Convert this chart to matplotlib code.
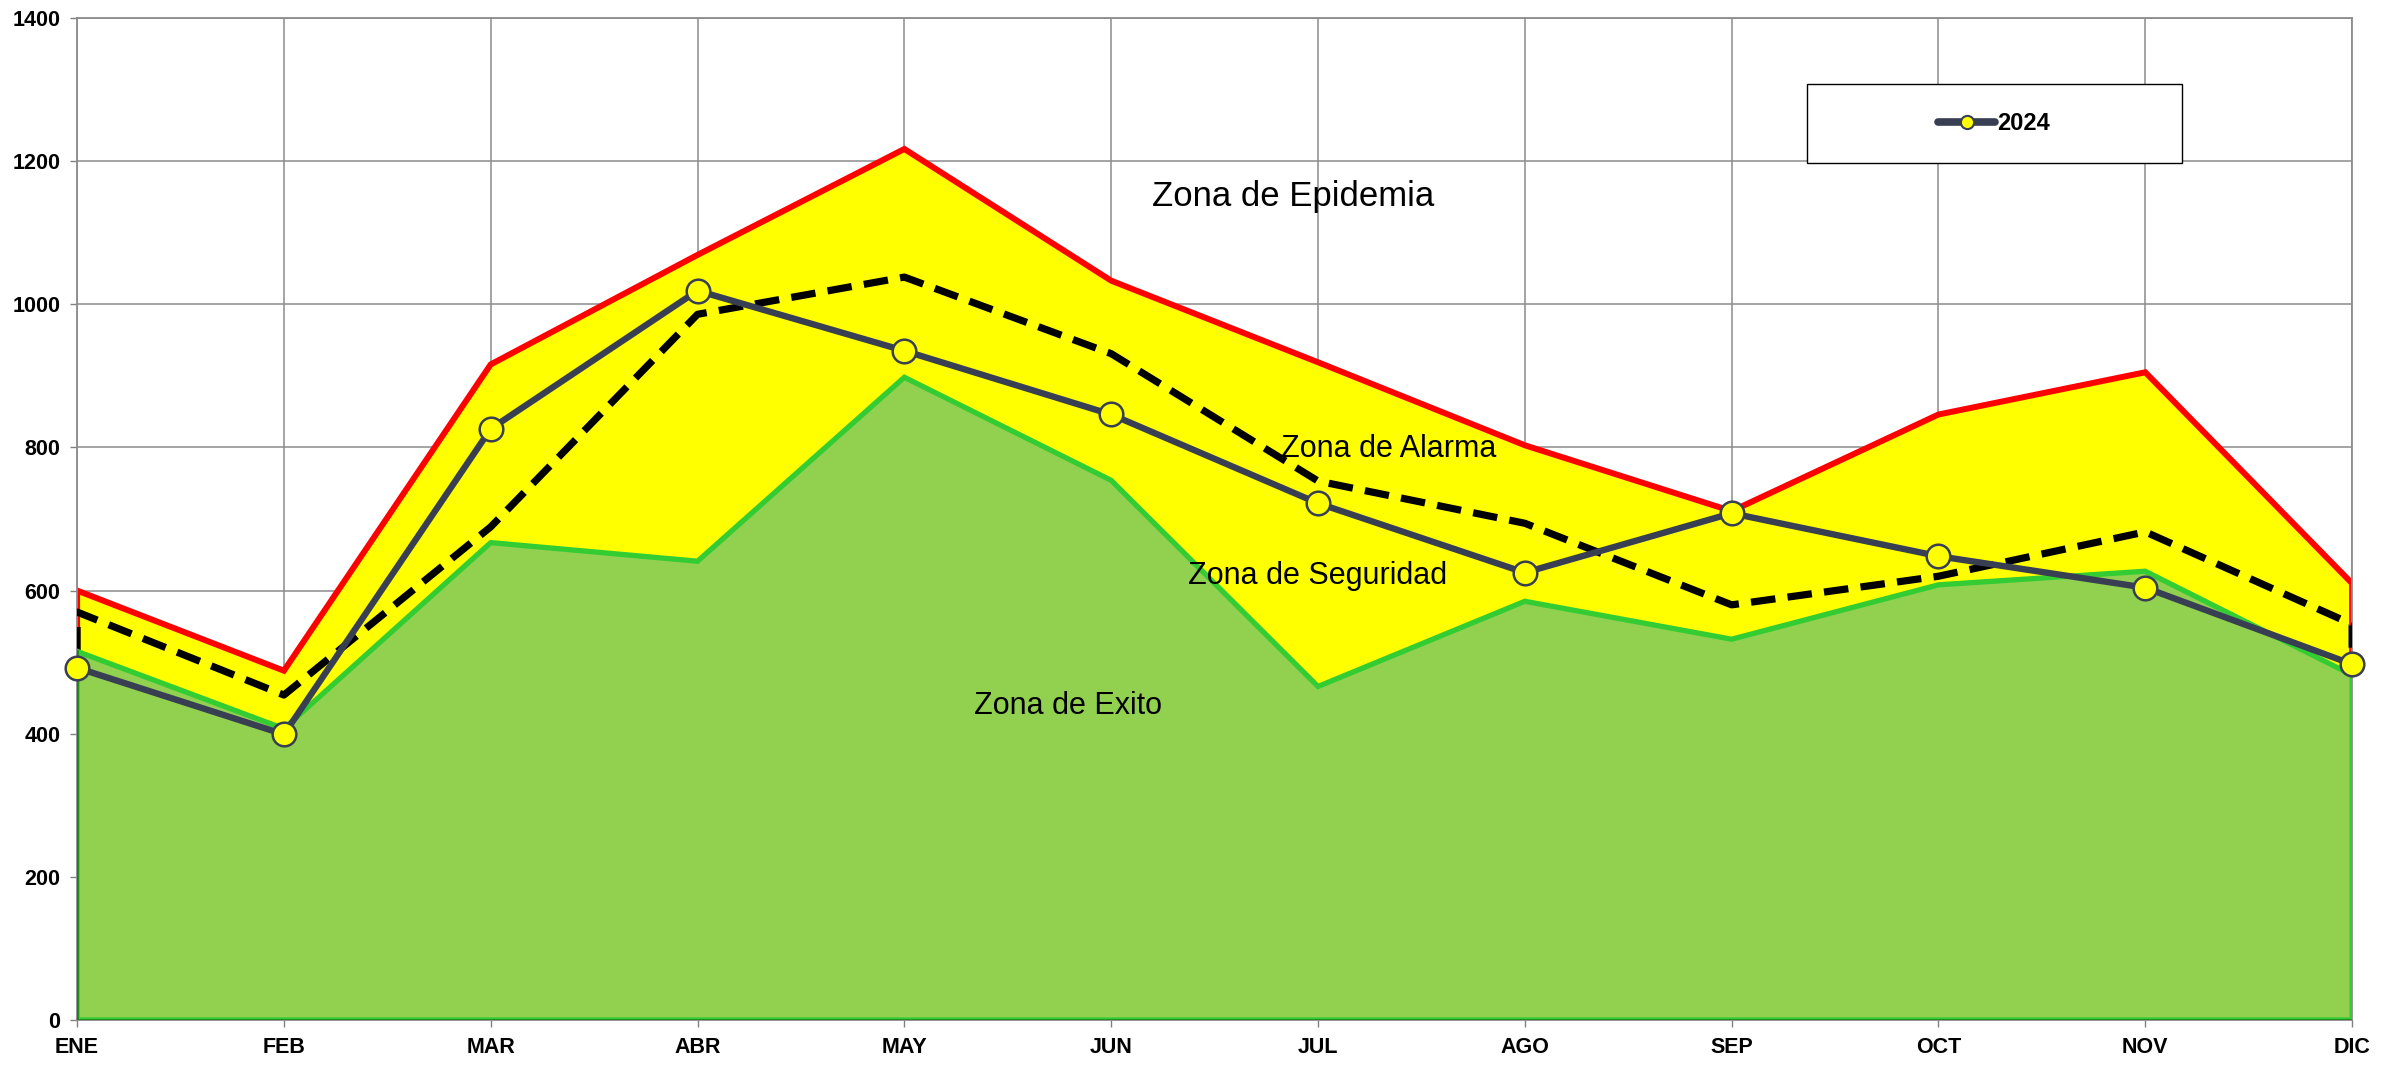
import numpy as np
import matplotlib
matplotlib.use("Agg")
import matplotlib.pyplot as plt
from matplotlib.lines import Line2D
from matplotlib.patches import Rectangle

plt.rcParams["font.family"] = ["Liberation Sans", "DejaVu Sans"]

# data
months = ["ENE", "FEB", "MAR", "ABR", "MAY", "JUN", "JUL", "AGO", "SEP", "OCT", "NOV", "DIC"]
limite_alarma = [600, 488, 916, 1069, 1217, 1033, 919, 803, 711, 846, 905, 610]      # red
limite_seguridad = [570, 454, 689, 986, 1038, 931, 753, 694, 580, 620, 682, 553]     # dashed
limite_exito = [515, 407, 667, 641, 898, 754, 466, 585, 532, 608, 627, 482]          # green
casos_2024 = [492, 399, 826, 1019, 935, 846, 722, 625, 708, 648, 604, 497]

x = np.arange(len(months))
x_poly = np.r_[x[0], x, x[-1]]

fig = plt.figure(figsize=(23.94, 10.66), dpi=100)
ax = fig.add_axes([0.0322, 0.0432, 0.9503, 0.9399])

# yellow zone (alarma) with red border
ax.fill(x_poly, np.r_[0, limite_alarma, 0], facecolor="#FFFF00", edgecolor="#FF0000",
        linewidth=4.3, joinstyle="miter", zorder=2)
# dashed border of the seguridad zone
ax.plot(x_poly, np.r_[0, limite_seguridad, 0], color="black", linewidth=5.2,
        dashes=(3.4, 1.7), dash_capstyle="butt", zorder=3)
# green zone (exito)
ax.fill(x_poly, np.r_[0, limite_exito, 0], facecolor="#92D050", edgecolor="#33CC33",
        linewidth=3.8, joinstyle="miter", zorder=4)
ax.plot([0, 0, 11], [limite_exito[0], 0, 0], color="#1E7B1E", linewidth=1.8, zorder=4.5)

# zone labels
ax.text(5.88, 1150, "Zona de Epidemia", fontsize=25, ha="center", va="center", zorder=5)
ax.text(6.34, 798, "Zona de Alarma", fontsize=22, ha="center", va="center", zorder=5)
ax.text(6.00, 620, "Zona de Seguridad", fontsize=22, ha="center", va="center", zorder=5)
ax.text(4.79, 439, "Zona de Exito", fontsize=22, ha="center", va="center", zorder=5)

# 2024 series
ax.plot(x, casos_2024, color="#383F52", linewidth=4.6, marker="o", markersize=17,
        markerfacecolor="#FFFF00", markeredgecolor="#383F52", markeredgewidth=1.8,
        zorder=6, clip_on=False)

ax.set_xlim(0, 11)
ax.set_ylim(0, 1400)
ax.set_xticks(x)
ax.set_xticklabels(months)
ax.set_yticks(np.arange(0, 1401, 200))
ax.tick_params(axis="both", labelsize=15.5, length=5, width=1, color="#808080", pad=7)
for lbl in ax.get_xticklabels() + ax.get_yticklabels():
    lbl.set_fontweight("bold")

ax.set_axisbelow(True)
ax.grid(True, color="#8C8C8C", linewidth=1.1)
for s in ax.spines.values():
    s.set_color("#8C8C8C")
    s.set_linewidth(1.3)

# legend box
ax.add_patch(Rectangle((0.7603, 0.855), 0.1648, 0.0791, transform=ax.transAxes,
                       facecolor="white", edgecolor="black", linewidth=1, zorder=7))
handle = Line2D([], [], color="#383F52", linewidth=5.5, solid_capstyle="round",
                marker="o", markersize=9.5, markerfacecolor="#FFFF00",
                markeredgecolor="#383F52", markeredgewidth=1.5)
leg = ax.legend([handle], ["2024"], loc="center", bbox_to_anchor=(0.8427, 0.8946),
                frameon=False, handlelength=2.4, handletextpad=0.1,
                prop={"size": 17, "weight": "bold"})
leg.set_zorder(8)

fig.savefig("out.png", dpi=100)
